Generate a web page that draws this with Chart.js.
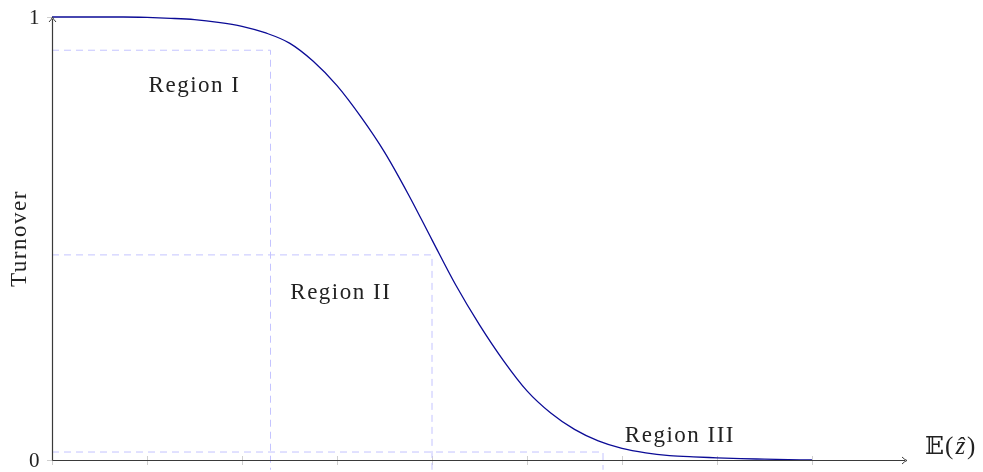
<!DOCTYPE html>
<html>
<head>
<meta charset="utf-8">
<script src="https://cdn.jsdelivr.net/npm/chart.js@4"></script>
<style>
  html, body { margin: 0; padding: 0; background: #fff; }
  #wrap { width: 983px; height: 472px; position: relative; }
</style>
</head>
<body>
<div id="wrap"><canvas id="chart"></canvas></div>
<script>
// curve, every 0.25 on the x axis
const xValues = [0, 0.25, 0.5, 0.75, 1, 1.25, 1.5, 1.75, 2, 2.25, 2.5, 2.75, 3, 3.25, 3.5, 3.75, 4, 4.25, 4.5, 4.75, 5, 5.25, 5.5, 5.75, 6, 6.25, 6.5, 6.75, 7, 7.25, 7.5, 7.75, 8];
const turnover = [1, 1, 1, 1, 0.999, 0.997, 0.994, 0.988, 0.979, 0.964, 0.941, 0.9, 0.845, 0.775, 0.695, 0.6, 0.497, 0.395, 0.305, 0.225, 0.156, 0.106, 0.069, 0.043, 0.026, 0.016, 0.01, 0.007, 0.005, 0.003, 0.002, 0.001, 0];

// region guides
const regionEdges = [2.3, 4.0, 5.8];
const regionLevels = [0.925, 0.463, 0.018];
const regionNames = ['Region I', 'Region II', 'Region III'];
const regionLabelAt = [[1.5, 0.845], [3.04, 0.377], [6.61, 0.054]];

const xTicks = [0, 1, 2, 3, 4, 5, 6, 7, 8];
const yTicks = [0, 1];

const guideColor = '#c4c4ff';
const serif = '"Liberation Serif", "DejaVu Serif", serif';

const guideSets = regionEdges.map((edge, i) => ({
  data: [{ x: 0, y: regionLevels[i] }, { x: edge, y: regionLevels[i] }, { x: edge, y: -0.022 }],
  borderColor: guideColor,
  borderWidth: 1,
  borderDash: [7, 5],
  pointRadius: 0,
  clip: false,
  tension: 0
}));

function setSpacing(ctx, s) {
  if ('letterSpacing' in ctx) ctx.letterSpacing = s;
}

const axesPlugin = {
  id: 'axes',
  beforeDatasetsDraw(chart) {
    const { ctx, scales: { x, y } } = chart;
    const x0 = x.getPixelForValue(0), y0 = y.getPixelForValue(0);
    ctx.save();
    ctx.strokeStyle = '#cfcfcf';
    ctx.lineWidth = 1;
    xTicks.forEach(t => {
      const px = Math.round(x.getPixelForValue(t)) + 0.5;
      ctx.beginPath(); ctx.moveTo(px, y0 - 4); ctx.lineTo(px, y0 + 5); ctx.stroke();
    });
    yTicks.forEach(t => {
      const py = Math.round(y.getPixelForValue(t)) + 0.5;
      ctx.beginPath(); ctx.moveTo(x0 - 5, py); ctx.lineTo(x0, py); ctx.stroke();
    });
    ctx.restore();
  },
  afterDatasetsDraw(chart) {
    const { ctx, scales: { x, y } } = chart;
    const x0 = Math.round(x.getPixelForValue(0)) + 0.5;
    const y0 = Math.round(y.getPixelForValue(0)) + 0.5;
    const xEnd = x.getPixelForValue(x.max);
    const yTop = y.getPixelForValue(y.max);
    ctx.save();
    ctx.strokeStyle = '#3a3a3a';
    ctx.fillStyle = '#3a3a3a';
    ctx.lineWidth = 1.2;
    ctx.beginPath(); ctx.moveTo(x0, y0); ctx.lineTo(xEnd - 2, y0); ctx.stroke();
    ctx.beginPath(); ctx.moveTo(x0, y0); ctx.lineTo(x0, yTop + 2); ctx.stroke();
    // arrow heads
    ctx.lineWidth = 1;
    ctx.beginPath(); ctx.moveTo(xEnd - 5, y0 - 3.5); ctx.quadraticCurveTo(xEnd - 2, y0 - 0.5, xEnd, y0); ctx.quadraticCurveTo(xEnd - 2, y0 + 0.5, xEnd - 5, y0 + 3.5); ctx.stroke();
    ctx.beginPath(); ctx.moveTo(x0 - 3.5, yTop + 5); ctx.quadraticCurveTo(x0 - 0.5, yTop + 2, x0, yTop); ctx.quadraticCurveTo(x0 + 0.5, yTop + 2, x0 + 3.5, yTop + 5); ctx.stroke();

    ctx.fillStyle = '#222';
    ctx.font = '21px ' + serif;
    ctx.textAlign = 'right';
    ctx.textBaseline = 'middle';
    yTicks.forEach(t => ctx.fillText(String(t), x0 - 13, y.getPixelForValue(t) + 1));

    ctx.font = '23px ' + serif;
    setSpacing(ctx, '1.5px');
    ctx.textAlign = 'center';
    regionNames.forEach((name, i) => {
      ctx.fillText(name, x.getPixelForValue(regionLabelAt[i][0]), y.getPixelForValue(regionLabelAt[i][1]));
    });

    // y title
    ctx.save();
    ctx.translate(20, (y.top + y.bottom) / 2);
    ctx.rotate(-Math.PI / 2);
    ctx.fillText('Turnover', 0, 0);
    ctx.restore();
    setSpacing(ctx, '0px');

    // x title E(z-hat)
    ctx.textAlign = 'left';
    let px = xEnd + 18;
    const py = y0 - 13;
    ctx.font = '25px "DejaVu Serif", "DejaVu Sans", serif';
    ctx.fillText('\u{1D53C}', px, py);
    px += ctx.measureText('\u{1D53C}').width + 1;
    ctx.font = '25px ' + serif;
    ctx.fillText('(', px, py);
    px += ctx.measureText('(').width + 2;
    ctx.font = 'italic 25px ' + serif;
    ctx.fillText('\u1E91', px, py);
    px += ctx.measureText('\u1E91').width + 2;
    ctx.font = '25px ' + serif;
    ctx.fillText(')', px, py);
    ctx.restore();
  }
};

new Chart(document.getElementById('chart'), {
  type: 'line',
  data: {
    datasets: [
      ...guideSets,
      {
        data: xValues.map((v, i) => ({ x: v, y: turnover[i] })),
        borderColor: '#0b0b96',
        borderWidth: 1.3,
        pointRadius: 0,
        cubicInterpolationMode: 'monotone',
        clip: false
      }
    ]
  },
  options: {
    responsive: true,
    maintainAspectRatio: false,
    animation: false,
    layout: { padding: { left: 52, right: 76, top: 17, bottom: 12 } },
    scales: {
      x: { type: 'linear', min: 0, max: 9, display: false },
      y: { type: 'linear', min: 0, max: 1, display: false }
    },
    plugins: { legend: { display: false }, tooltip: { enabled: false } }
  },
  plugins: [axesPlugin]
});
</script>
</body>
</html>
